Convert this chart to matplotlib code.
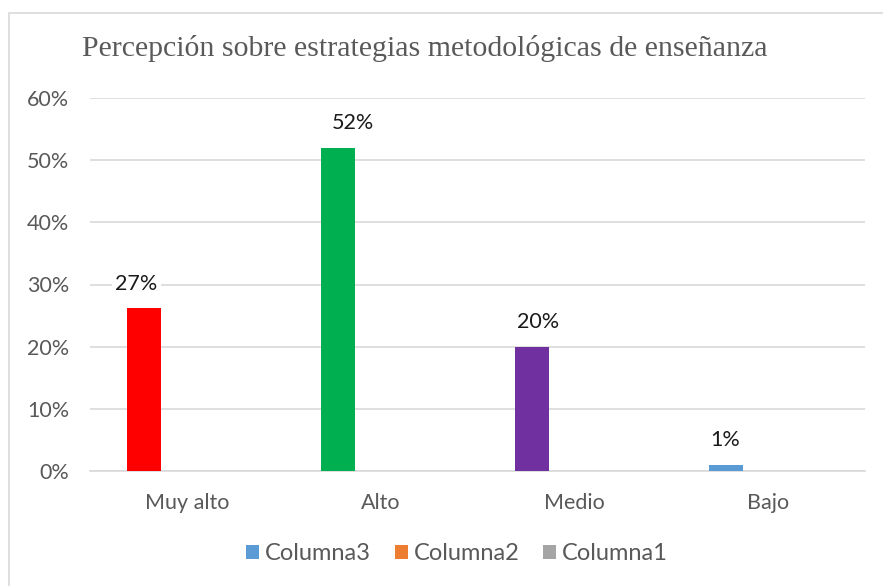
import matplotlib
matplotlib.use("Agg")
import matplotlib.pyplot as plt
from matplotlib.patches import Rectangle, Patch
from matplotlib.ticker import PercentFormatter
import numpy as np

categories = ["Muy alto", "Alto", "Medio", "Bajo"]
columna3 = [0.262, 0.52, 0.20, 0.01]
columna2 = [0, 0, 0, 0]
columna1 = [0, 0, 0, 0]
labels3 = ["27%", "52%", "20%", "1%"]
bar_colors3 = ["#FF0000", "#00B050", "#7030A0", "#5B9BD5"]
legend_names = ["Columna3", "Columna2", "Columna1"]
legend_colors = ["#5B9BD5", "#ED7D31", "#A5A5A5"]
yticks = [0, 0.1, 0.2, 0.3, 0.4, 0.5, 0.6]
label_dx_px = [-8, 15, 6, 0]  # manual label nudges (styling)

W, H = 883, 586
fig = plt.figure(figsize=(W / 100, H / 100), dpi=100)
fig.patch.set_facecolor("white")
fig.patches.append(Rectangle((8.5 / W, -0.1), 1.2, 1 - 12.5 / H + 0.1,
                             transform=fig.transFigure, fill=False,
                             edgecolor="#D9D9D9", linewidth=1.2))

ax = fig.add_axes([90 / W, 1 - 471 / H, (865 - 90) / W, (471 - 98) / H])
x = np.arange(len(categories))
w = 34 / 193.75
off = 42.5 / 193.75
ax.bar(x - off, columna3, width=w, color=bar_colors3, zorder=3)
ax.bar(x, columna2, width=w, color=legend_colors[1], zorder=3)
ax.bar(x + off, columna1, width=w, color=legend_colors[2], zorder=3)

font = "Lato"
px2pt = 72 / 100
for xi, v, lab, dx in zip(x - off, columna3, labels3, label_dx_px):
    ax.annotate(lab, (xi, v), xytext=(dx * px2pt, 17.5), textcoords="offset points",
                ha="center", va="center", fontsize=15.5, color="#1a1a1a",
                family=font, zorder=4,
                bbox=dict(boxstyle="square,pad=0.15", fc="white", ec="none"))

ax.set_xlim(-0.5, len(categories) - 0.5)
ax.set_ylim(0, 0.6)
ax.set_yticks(yticks)
ax.yaxis.set_major_formatter(PercentFormatter(1.0, decimals=0))
ax.set_xticks(x)
ax.set_xticklabels(categories)
ax.grid(axis="y", color="#D9D9D9", linewidth=1.2, zorder=0)
for s in ["top", "right", "left"]:
    ax.spines[s].set_visible(False)
ax.spines["bottom"].set_color("#D9D9D9")
ax.spines["bottom"].set_linewidth(1.2)
ax.tick_params(axis="both", length=0, labelsize=15.5, labelcolor="#595959")
ax.tick_params(axis="y", pad=15)
ax.tick_params(axis="x", pad=16)
for t in ax.get_xticklabels() + ax.get_yticklabels():
    t.set_family(font)

fig.text(425 / W, 1 - 48 / H, "Percepción sobre estrategias metodológicas de enseñanza",
         ha="center", va="center", fontsize=21.5, color="#595959",
         family="Liberation Serif")

handles = [Patch(facecolor=c, edgecolor="none") for c in legend_colors]
fig.legend(handles, legend_names, loc="center", bbox_to_anchor=(457 / W, 1 - 554 / H),
           ncol=3, frameon=False, prop=dict(family=font, size=17),
           labelcolor="#595959", handlelength=0.55, handleheight=0.55,
           handletextpad=0.25, columnspacing=1.0)

fig.savefig("out.png", dpi=100, facecolor="white")
